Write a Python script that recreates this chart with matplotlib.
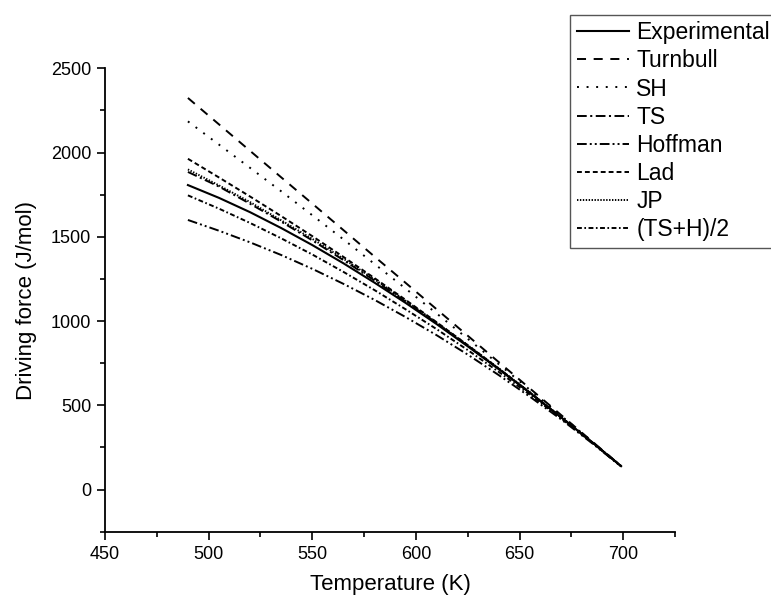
import matplotlib
matplotlib.use("Agg")
import matplotlib.pyplot as plt
from matplotlib.ticker import MultipleLocator

plt.rcParams['font.family'] = ['Liberation Sans', 'DejaVu Sans']
plt.rcParams['lines.scale_dashes'] = False

# Temperature (K)
temperature = [490, 505, 520, 535, 550, 565, 580, 595, 610, 625, 640, 655, 670, 685, 699]

# Driving force (J/mol)
experimental = [1807, 1731, 1646, 1552, 1451, 1343, 1228, 1108, 982, 850, 714, 574, 429, 281, 139]
turnbull     = [2324, 2167, 2010, 1853, 1697, 1540, 1383, 1227, 1070, 913, 756, 600, 443, 286, 140]
sh           = [2185, 2047, 1909, 1770, 1628, 1485, 1339, 1193, 1045, 895, 744, 592, 439, 285, 140]
ts           = [1885, 1798, 1696, 1590, 1479, 1362, 1241, 1116, 987, 854, 716, 575, 429, 281, 139]
hoffman      = [1600, 1536, 1467, 1392, 1310, 1221, 1126, 1024, 916, 801, 679, 551, 417, 275, 137]
lad          = [1963, 1852, 1739, 1623, 1504, 1381, 1255, 1126, 993, 857, 718, 576, 430, 281, 139]
jp           = [1900, 1805, 1706, 1598, 1488, 1370, 1248, 1121, 991, 857, 719, 577, 431, 282, 139]
ts_h_avg     = [1746, 1667, 1582, 1491, 1395, 1292, 1184, 1070, 952, 828, 698, 563, 423, 278, 138]

series = [
    ("Experimental", experimental, None),
    ("Turnbull", turnbull, (0, (6.5, 5.5))),
    ("SH", sh, (0, (1.4, 5.5))),
    ("TS", ts, (0, (7, 2.5, 1.5, 2.5))),
    ("Hoffman", hoffman, (0, (7, 2.2, 1.4, 2.2, 1.4, 2.2))),
    ("Lad", lad, (0, (3.5, 2.2))),
    ("JP", jp, (0, (1.0, 1.1))),
    ("(TS+H)/2", ts_h_avg, (0, (3.5, 1.8, 1.2, 1.8))),
]

fig = plt.figure(figsize=(7.71, 6.06), dpi=100)
ax = fig.add_axes([0.1362, 0.1226, 0.8755 - 0.1362, 0.8873 - 0.1226])

for name, vals, ls in series:
    if ls is None:
        ax.plot(temperature, vals, color='black', lw=1.5, label=name)
    else:
        ax.plot(temperature, vals, color='black', lw=1.4, linestyle=ls, label=name)

ax.set_xlim(450, 725)
ax.set_ylim(-250, 2500)
ax.xaxis.set_major_locator(MultipleLocator(50))
ax.xaxis.set_minor_locator(MultipleLocator(25))
ax.yaxis.set_major_locator(MultipleLocator(500))
ax.yaxis.set_minor_locator(MultipleLocator(250))

for s in ['top', 'right']:
    ax.spines[s].set_visible(False)
for s in ['left', 'bottom']:
    ax.spines[s].set_linewidth(1.3)

ax.tick_params(which='major', direction='out', length=6, width=1.2, labelsize=13, pad=4)
ax.tick_params(which='minor', direction='out', length=3.5, width=1.2)

ax.set_xlabel("Temperature (K)", fontsize=16, labelpad=8)
ax.set_ylabel("Driving force (J/mol)", fontsize=16, labelpad=10)

leg = fig.legend(loc='upper left', bbox_to_anchor=(0.739, 0.976), fontsize=16.5,
                 frameon=True, fancybox=False, framealpha=1, edgecolor='#555555',
                 handlelength=2.3, handletextpad=0.3, labelspacing=0.22,
                 borderpad=0.3, borderaxespad=0)
leg.get_frame().set_linewidth(1.0)

fig.savefig("out.png", dpi=100)
